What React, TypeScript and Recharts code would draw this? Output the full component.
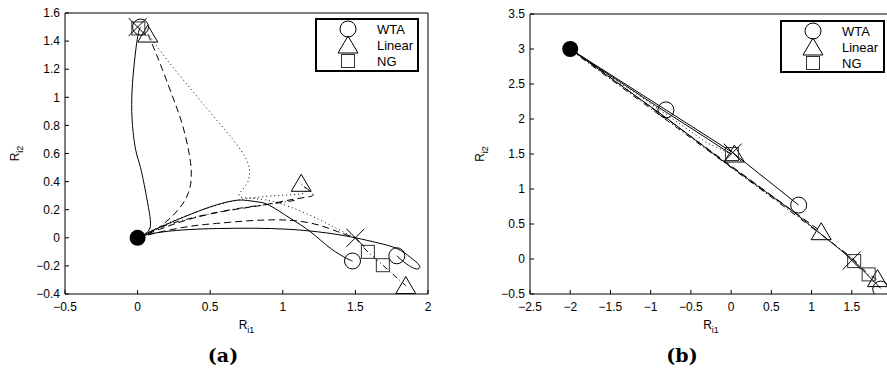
import { ComposedChart, Line, Scatter, XAxis, YAxis, Legend } from 'recharts';

type Pt = { x: number; y: number };
const P = (x: number, y: number): Pt => ({ x, y });

// ---------- panel (a) ----------
const aXTicks = [-0.5, 0, 0.5, 1, 1.5, 2];
const aYTicks = [-0.4, -0.2, 0, 0.2, 0.4, 0.6, 0.8, 1, 1.2, 1.4, 1.6];

const aSolidTop = [P(0.02, 1.5), P(0.0, 1.43), P(-0.025, 1.22), P(-0.04, 1.0), P(-0.035, 0.8), P(-0.012, 0.62), P(0.02, 0.5), P(0.06, 0.3), P(0.085, 0.15), P(0.085, 0.07), P(0.05, 0.025), P(0, 0)];
const aDashedTop = [P(0.07, 1.45), P(0.1, 1.38), P(0.17, 1.2), P(0.25, 0.98), P(0.31, 0.8), P(0.355, 0.6), P(0.37, 0.45), P(0.35, 0.32), P(0.28, 0.2), P(0.18, 0.1), P(0.09, 0.035), P(0, 0)];
const aDottedTop = [P(0.08, 1.44), P(0.2, 1.27), P(0.43, 0.98), P(0.6, 0.77), P(0.7, 0.64), P(0.76, 0.53), P(0.77, 0.45), P(0.75, 0.38), P(0.7, 0.31), P(0.74, 0.285), P(0.88, 0.27), P(1.05, 0.22), P(1.25, 0.13), P(1.42, 0.04), P(1.5, 0)];
const aSolidLow = [P(0, 0), P(0.1, 0.03), P(0.3, 0.055), P(0.55, 0.066), P(0.8, 0.068), P(1.05, 0.06), P(1.3, 0.035), P(1.5, 0.0), P(1.65, -0.035), P(1.785, -0.076), P(1.88, -0.14), P(1.94, -0.195), P(1.93, -0.222), P(1.88, -0.205), P(1.82, -0.16), P(1.785, -0.128)];
const aSolidHump = [P(0, 0), P(0.1, 0.05), P(0.3, 0.14), P(0.5, 0.22), P(0.64, 0.26), P(0.73, 0.268), P(0.83, 0.255), P(0.91, 0.23), P(1.05, 0.14), P(1.19, 0.043), P(1.33, -0.076), P(1.44, -0.147), P(1.48, -0.165)];
const aDashedLow = [P(0, 0), P(0.15, 0.04), P(0.35, 0.08), P(0.52, 0.1), P(0.75, 0.12), P(0.95, 0.128), P(1.1, 0.12), P(1.25, 0.09), P(1.38, 0.043), P(1.5, 0)];
const aDashedUp = [P(0, 0), P(0.15, 0.06), P(0.35, 0.13), P(0.6, 0.19), P(0.85, 0.23), P(1.05, 0.27), P(1.17, 0.29), P(1.21, 0.305), P(1.19, 0.33), P(1.13, 0.38)];
const aDottedUp = [P(0, 0), P(0.2, 0.1), P(0.45, 0.2), P(0.7, 0.27), P(0.95, 0.3), P(1.1, 0.31), P(1.16, 0.33), P(1.13, 0.38)];
const aDashDot = [P(0, 0), P(0.2, 0.09), P(0.45, 0.16), P(0.7, 0.21), P(0.95, 0.245), P(1.1, 0.27)];
const aDashDotLow = [P(1.5, 0), P(1.586, -0.1), P(1.689, -0.195), P(1.78, -0.28), P(1.847, -0.34)];

const aStart = [P(0, 0)];
const aCircles = [P(0.02, 1.5), P(1.48, -0.165), P(1.785, -0.128)];
const aTriangles = [P(0.07, 1.45), P(1.127, 0.388), P(1.847, -0.34)];
const aSquares = [P(0.005, 1.49), P(1.586, -0.1), P(1.689, -0.195)];
const aCrosses = [P(0, 1.5), P(1.5, 0)];

// ---------- panel (b) ----------
const bXTicks = [-2.5, -2, -1.5, -1, -0.5, 0, 0.5, 1, 1.5];
const bYTicks = [-0.5, 0, 0.5, 1, 1.5, 2, 2.5, 3, 3.5];

const bSolidA = [P(-2, 3.0), P(-0.81, 2.13), P(0.02, 1.52), P(0.84, 0.77)];
const bSolidB = [P(-1.95, 2.96), P(-1.0, 2.24), P(0.0, 1.5)];
const bSolidLow = [P(-2, 3), P(-0.81, 2.02), P(-0.09, 1.39), P(0.78, 0.67), P(1.5, 0.0), P(1.86, -0.42)];
const bDashed = [P(-1.97, 2.99), P(-1, 2.17), P(0, 1.33), P(1.12, 0.39)];
const bDotted = [P(-2, 3), P(-1, 2.22), P(-0.3, 1.66), P(0.0, 1.5)];
const bDashDot = [P(-2, 2.99), P(-0.5, 1.73), P(0.6, 0.8), P(1.5, 0.02), P(1.71, -0.22), P(1.82, -0.3)];

const bStart = [P(-2, 3)];
const bCircles = [P(-0.81, 2.13), P(0.84, 0.77), P(1.86, -0.43)];
const bTriangles = [P(0.04, 1.5), P(1.12, 0.39), P(1.82, -0.28)];
const bSquares = [P(0.01, 1.5), P(1.53, -0.03), P(1.71, -0.22)];
const bCrosses = [P(0.02, 1.52), P(1.5, -0.02)];

const FONT = '"Liberation Sans", Arial, Helvetica, sans-serif';
const SOLID = undefined;
const DASHED = '7 4';
const DOTTED = '1 3';
const DASHDOT = '6 3 1 3';

const fmt = (v: number) => String(v).replace('-', '\u2212');

const CircleMark = (p: any) => <circle cx={p.cx} cy={p.cy} r={8} fill="none" stroke="#000" strokeWidth={1} />;
const TriMark = (p: any) => (
  <path d={`M${p.cx},${p.cy - 9}L${p.cx + 10},${p.cy + 8}L${p.cx - 10},${p.cy + 8}Z`} fill="none" stroke="#000" strokeWidth={1} />
);
const SquareMark = (p: any) => (
  <rect x={p.cx - 6.5} y={p.cy - 6.5} width={13} height={13} fill="none" stroke="#333" strokeWidth={1} />
);
const CrossMark = (p: any) => (
  <path d={`M${p.cx - 9},${p.cy - 9}L${p.cx + 9},${p.cy + 9}M${p.cx - 9},${p.cy + 9}L${p.cx + 9},${p.cy - 9}`} stroke="#000" strokeWidth={1} />
);
const DotMark = (p: any) => <circle cx={p.cx} cy={p.cy} r={8} fill="#000" />;

function LegendBox({ w, h }: { w: number; h: number }) {
  return (
    <svg width={w} height={h} style={{ display: 'block' }}>
      <rect x={1} y={1} width={w - 2} height={h - 2} fill="#fff" stroke="#000" strokeWidth={2} />
      <CircleMark cx={33} cy={11} />
      <TriMark cx={33} cy={27} />
      <SquareMark cx={33} cy={43} />
      <text x={62} y={15.5} fontFamily={FONT} fontSize={13} fill="#000">WTA</text>
      <text x={62} y={31.5} fontFamily={FONT} fontSize={13} fill="#000">Linear</text>
      <text x={62} y={47.5} fontFamily={FONT} fontSize={13} fill="#000">NG</text>
    </svg>
  );
}

const xLabel = (caption: string, captionX: number) => (props: any) => {
  const vb = props.viewBox;
  const cx = vb.x + vb.width / 2;
  return (
    <g>
      <text x={cx} y={vb.y + 35} textAnchor="middle" fontFamily={FONT} fontSize={12} fill="#000">
        R<tspan fontSize={9} dy={4} fill="#000">i1</tspan>
      </text>
      <text x={captionX} y={362} textAnchor="middle" fontFamily='"DejaVu Serif", serif' fontWeight="bold" fontSize={19} fill="#000">
        {caption}
      </text>
    </g>
  );
};

const yLabel = (props: any) => {
  const vb = props.viewBox;
  const x0 = vb.x + 4;
  const y0 = vb.y + vb.height / 2;
  return (
    <text x={x0} y={y0} transform={`rotate(-90 ${x0} ${y0})`} textAnchor="middle" fontFamily={FONT} fontSize={12} fill="#000">
      R<tspan fontSize={9} dy={4} fill="#000">i2</tspan>
    </text>
  );
};

type Curve = { data: Pt[]; dash?: string };
type Marks = { data: Pt[]; shape: (p: any) => any };

interface PanelProps {
  left: number;
  width: number;
  margin: { top: number; right: number; bottom: number; left: number };
  xDomain: [number, number];
  yDomain: [number, number];
  xTicks: number[];
  yTicks: number[];
  curves: Curve[];
  curveType: 'natural' | 'linear';
  marks: Marks[];
  legend: { left: number; top: number; w: number; h: number };
  caption: string;
  captionX: number;
}

const tickStyle = { fill: '#000', fontSize: 12, fontFamily: FONT };
const lineStyle = { stroke: '#000', strokeWidth: 1 };

function Panel(p: PanelProps) {
  return (
    <div style={{ position: 'absolute', left: p.left, top: 0 }}>
      <ComposedChart width={p.width} height={372} margin={p.margin}>
        <XAxis
          dataKey="x"
          type="number"
          domain={p.xDomain}
          ticks={p.xTicks}
          allowDataOverflow
          interval={0}
          height={30}
          tickSize={-4}
          tickMargin={12}
          tickFormatter={fmt}
          tick={tickStyle}
          axisLine={lineStyle}
          tickLine={lineStyle}
          label={xLabel(p.caption, p.captionX)}
        />
        <XAxis
          xAxisId="top"
          orientation="top"
          type="number"
          domain={p.xDomain}
          ticks={p.xTicks}
          allowDataOverflow
          interval={0}
          height={1}
          tickSize={-4}
          tick={false}
          axisLine={lineStyle}
          tickLine={lineStyle}
        />
        <YAxis
          dataKey="y"
          type="number"
          domain={p.yDomain}
          ticks={p.yTicks}
          allowDataOverflow
          interval={0}
          width={50}
          tickSize={-4}
          tickMargin={9}
          tickFormatter={fmt}
          tick={tickStyle}
          axisLine={lineStyle}
          tickLine={lineStyle}
          label={yLabel}
        />
        <YAxis
          yAxisId="right"
          orientation="right"
          type="number"
          domain={p.yDomain}
          ticks={p.yTicks}
          allowDataOverflow
          interval={0}
          width={1}
          tickSize={-4}
          tick={false}
          axisLine={lineStyle}
          tickLine={lineStyle}
        />
        <Legend
          layout="vertical"
          align="center"
          verticalAlign="middle"
          wrapperStyle={{ left: p.legend.left, top: p.legend.top, width: p.legend.w, height: p.legend.h }}
          content={() => <LegendBox w={p.legend.w} h={p.legend.h} />}
        />
        {p.curves.map((c, i) => (
          <Line
            key={`c${i}`}
            data={c.data}
            dataKey="y"
            type={p.curveType}
            stroke="#000"
            strokeWidth={1}
            strokeDasharray={c.dash}
            dot={false}
            activeDot={false}
            legendType="none"
            isAnimationActive={false}
          />
        ))}
        {p.marks.map((m, i) => (
          <Scatter key={`m${i}`} data={m.data} shape={m.shape} legendType="none" isAnimationActive={false} />
        ))}
      </ComposedChart>
    </div>
  );
}

export default function App() {
  const aCurves: Curve[] = [
    { data: aSolidTop, dash: SOLID },
    { data: aDashedTop, dash: DASHED },
    { data: aDottedTop, dash: DOTTED },
    { data: aSolidLow, dash: SOLID },
    { data: aSolidHump, dash: SOLID },
    { data: aDashedLow, dash: DASHED },
    { data: aDashedUp, dash: DASHED },
    { data: aDottedUp, dash: DOTTED },
    { data: aDashDot, dash: DASHDOT },
    { data: aDashDotLow, dash: DASHDOT },
  ];
  const aMarks: Marks[] = [
    { data: aStart, shape: DotMark },
    { data: aCircles, shape: CircleMark },
    { data: aTriangles, shape: TriMark },
    { data: aSquares, shape: SquareMark },
    { data: aCrosses, shape: CrossMark },
  ];
  const bCurves: Curve[] = [
    { data: bSolidA, dash: SOLID },
    { data: bSolidB, dash: SOLID },
    { data: bSolidLow, dash: SOLID },
    { data: bDashed, dash: DASHED },
    { data: bDotted, dash: DOTTED },
    { data: bDashDot, dash: DASHDOT },
  ];
  const bMarks: Marks[] = [
    { data: bStart, shape: DotMark },
    { data: bCircles, shape: CircleMark },
    { data: bTriangles, shape: TriMark },
    { data: bSquares, shape: SquareMark },
    { data: bCrosses, shape: CrossMark },
  ];

  return (
    <div style={{ position: 'absolute', left: 0, top: 0, width: 887, height: 372, overflow: 'hidden', background: '#fff' }}>
      <Panel
        left={0}
        width={440}
        margin={{ top: 12, right: 11, bottom: 48, left: 15 }}
        xDomain={[-0.5, 2]}
        yDomain={[-0.4, 1.6]}
        xTicks={aXTicks}
        yTicks={aYTicks}
        curves={aCurves}
        curveType="natural"
        marks={aMarks}
        legend={{ left: 315, top: 18, w: 104, h: 54 }}
        caption="(a)"
        captionX={223}
      />
      <Panel
        left={440}
        width={460}
        margin={{ top: 13, right: 7, bottom: 48, left: 40 }}
        xDomain={[-2.5, 2]}
        yDomain={[-0.5, 3.5]}
        xTicks={bXTicks}
        yTicks={bYTicks}
        curves={bCurves}
        curveType="linear"
        marks={bMarks}
        legend={{ left: 340, top: 20, w: 105, h: 53 }}
        caption="(b)"
        captionX={242}
      />
    </div>
  );
}
